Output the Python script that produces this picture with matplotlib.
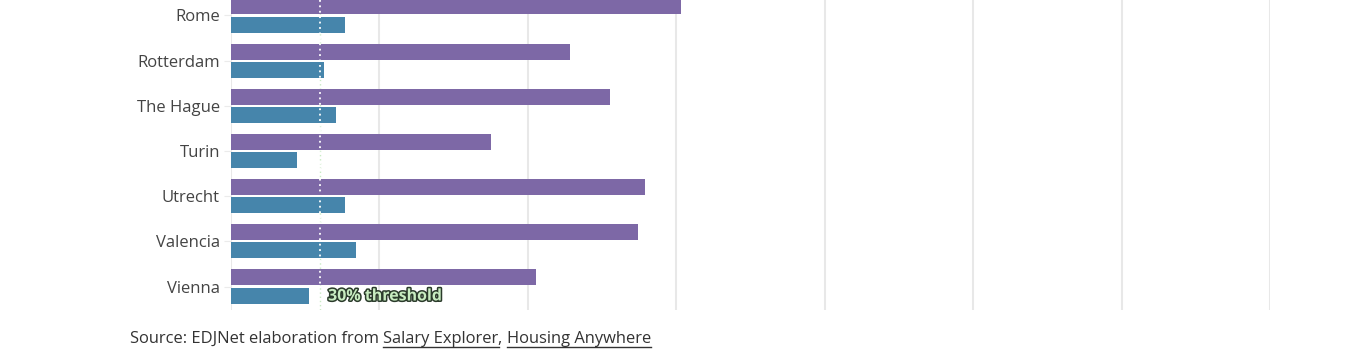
import numpy as np
import matplotlib.pyplot as plt
import matplotlib.patheffects as pe

plt.rcParams['font.family'] = ['Open Sans', 'DejaVu Sans']

# data (percent)
cities = ["Rome", "Rotterdam", "The Hague", "Turin", "Utrecht", "Valencia", "Vienna"]
purple_vals = [151.7, 114.3, 127.7, 87.6, 139.5, 137.2, 102.8]
blue_vals = [38.4, 31.3, 35.4, 22.2, 38.4, 42.1, 26.3]
threshold = 30
grid_ticks = [0, 50, 100, 150, 200, 250, 300, 350]

fig = plt.figure(figsize=(13.52, 3.55), dpi=100)
ax = fig.add_axes([231/1352, 45/355, 1039/1352, 310/355])

y = np.arange(len(cities))
h = 0.354
ax.barh(y - 0.2, purple_vals, height=h, color="#7d68a6", zorder=2)
ax.barh(y + 0.2, blue_vals, height=h, color="#4685ab", zorder=2)

ax.set_xlim(0, 350)
ax.set_ylim(6.52, -0.343)
ax.set_xticks(grid_ticks)
ax.set_xticklabels([])
ax.tick_params(axis="x", length=0)
ax.grid(axis="x", color="#e8e8e8", linewidth=1.5, zorder=0)
for s in ax.spines.values():
    s.set_visible(False)

ax.set_yticks(y)
ax.set_yticklabels(cities, fontsize=12, color="#444444")
ax.tick_params(axis="y", length=5, width=0.8, color="#ebebeb", pad=3)

# threshold line
ax.axvline(threshold, color="#c9ebc4", linestyle=(0, (1, 2)), linewidth=1, zorder=1)
ax.plot([threshold, threshold], [-0.343, 6.0], color="white", linestyle=(0, (1, 2)),
        linewidth=1.3, zorder=3)
ax.text(threshold + 2.7, 6.22, "30% threshold", fontsize=11.5, fontweight="bold",
        color="#c8ecc0", va="center", ha="left", zorder=4,
        path_effects=[pe.withStroke(linewidth=2.2, foreground="#2b3b2b")])

# source line with underlined links
parts = [("Source: EDJNet elaboration from ", False), ("Salary Explorer", True),
         (", ", False), ("Housing Anywhere", True)]
fig.canvas.draw()
renderer = fig.canvas.get_renderer()
xpos = 130
for txt, link in parts:
    t = fig.text(xpos / 1352, 1 - 339 / 355, txt, fontsize=11.9, color="#333333",
                 va="center", ha="left")
    bb = t.get_window_extent(renderer=renderer)
    if link:
        fig.add_artist(plt.Line2D([bb.x0 / 1352, bb.x1 / 1352],
                                  [(355 - 347) / 355, (355 - 347) / 355],
                                  color="#333333", linewidth=1))
    xpos = bb.x1

fig.savefig("out.png", dpi=100)
